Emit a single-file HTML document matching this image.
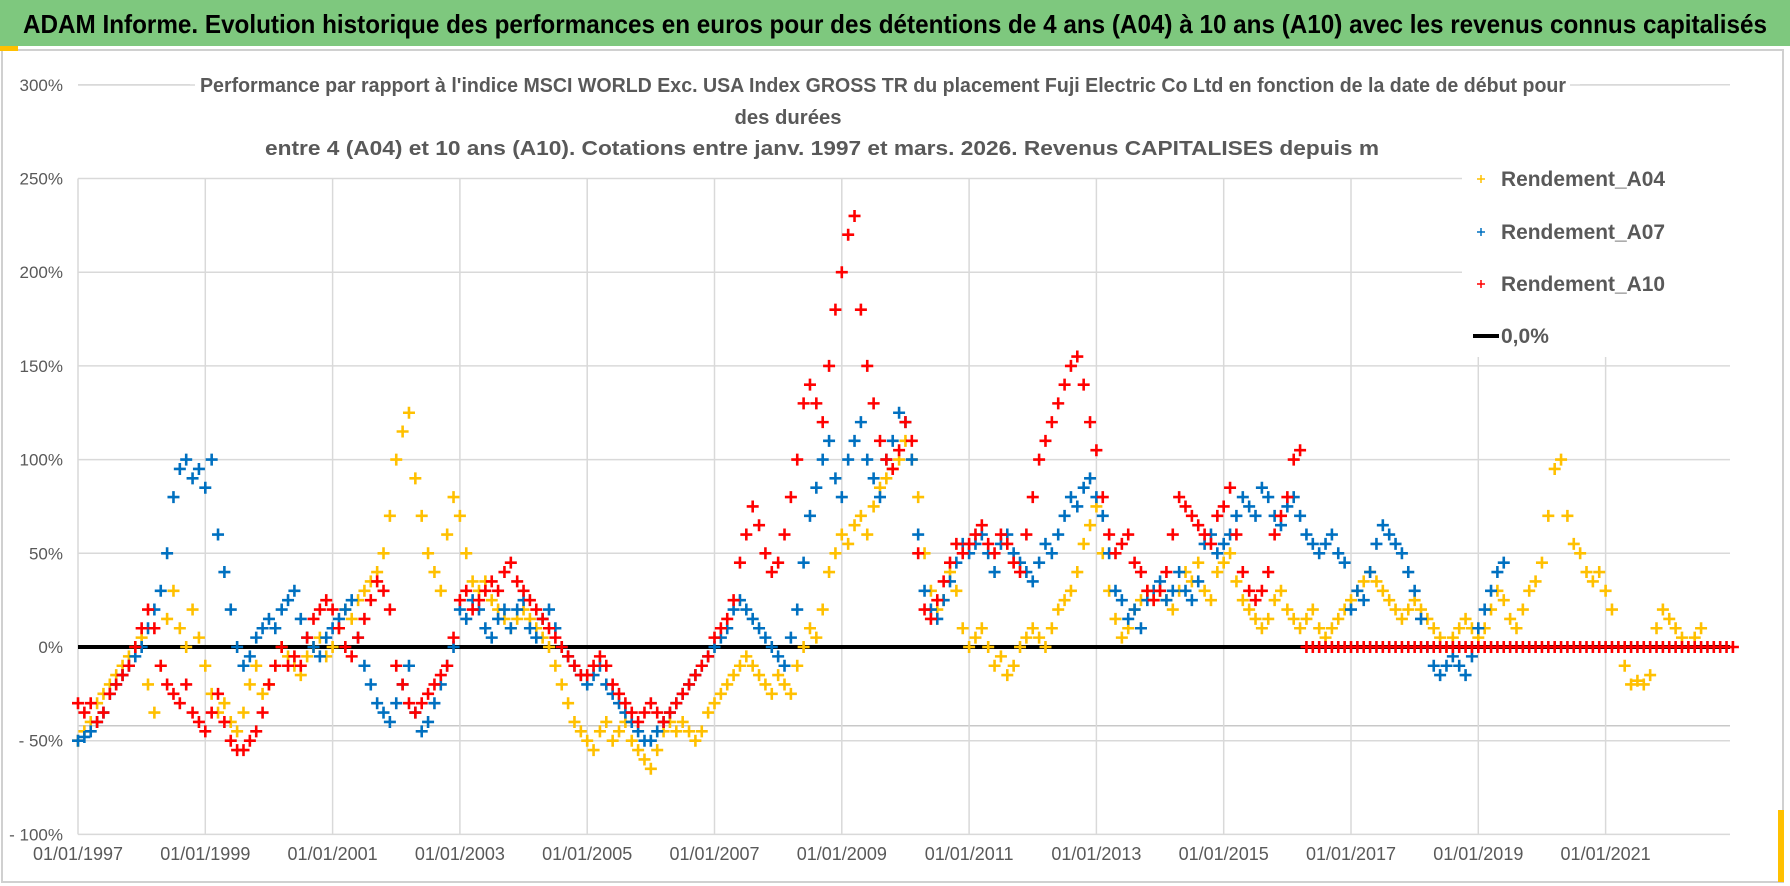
<!DOCTYPE html>
<html><head><meta charset="utf-8"><style>
html,body{margin:0;padding:0;background:#fff;}
svg{display:block;font-family:"Liberation Sans",sans-serif;}
</style></head><body>
<svg id="chart" width="1790" height="886" viewBox="0 0 1790 886">
<rect x="0" y="0" width="1790" height="886" fill="#fff"/>
<rect x="0" y="0" width="1790" height="46" fill="#7ec87e"/>
<text x="23" y="33" font-size="26" font-weight="bold" fill="#000" textLength="1744" lengthAdjust="spacingAndGlyphs">ADAM Informe. Evolution historique des performances en euros pour des détentions de 4 ans (A04) à 10 ans (A10) avec les revenus connus capitalisés</text>
<rect x="2" y="50" width="1781" height="832" fill="none" stroke="#d0d0d0" stroke-width="2"/>
<rect x="0" y="46" width="18" height="5" fill="#ffc000"/>
<rect x="1778" y="810" width="6" height="72" fill="#ffc000"/>
<g id="grid"></g>
<g id="marks"></g>
<rect x="190" y="68" width="1390" height="104" fill="#fff"/>
<line x1="78" y1="85" x2="195" y2="85" stroke="#d9d9d9" stroke-width="1.5"/>
<line x1="1570" y1="85" x2="1700" y2="85" stroke="#d9d9d9" stroke-width="1.5"/>
<g fill="#595959" font-size="20" font-weight="bold">
<text x="200" y="92" textLength="1366" lengthAdjust="spacingAndGlyphs">Performance par rapport à l'indice MSCI WORLD Exc. USA Index GROSS TR  du placement Fuji Electric Co Ltd en fonction de la date de début pour</text>
<text x="788" y="124" text-anchor="middle" textLength="107" lengthAdjust="spacingAndGlyphs">des durées</text>
<text x="265" y="155" textLength="1114" lengthAdjust="spacingAndGlyphs">entre 4 (A04) et 10 ans (A10).  Cotations entre janv. 1997 et mars. 2026.  Revenus CAPITALISES depuis m</text>
</g>
<rect x="1462" y="152" width="280" height="205" fill="#fff"/>
<g font-size="21" font-weight="bold" fill="#595959">
<g><path d="M1477 179h8M1481 175v8" stroke="#ffc000" stroke-width="1.5"/><text x="1501" y="186" textLength="164" lengthAdjust="spacingAndGlyphs">Rendement_A04</text></g>
<g><path d="M1477 232h8M1481 228v8" stroke="#0070c0" stroke-width="1.5"/><text x="1501" y="239" textLength="164" lengthAdjust="spacingAndGlyphs">Rendement_A07</text></g>
<g><path d="M1477 284h8M1481 280v8" stroke="#ff0000" stroke-width="1.5"/><text x="1501" y="291" textLength="164" lengthAdjust="spacingAndGlyphs">Rendement_A10</text></g>
<g><line x1="1473" y1="336" x2="1499" y2="336" stroke="#000" stroke-width="4"/><text x="1501" y="343">0,0%</text></g>
</g>
<g id="axes"></g>
</svg>
<script>
const yTicks=[300,250,200,150,100,50,0,-50,-100];
const yTickLabels=["300%","250%","200%","150%","100%","50%","0%","- 50%","- 100%"];
const xTickYears=[1997,1999,2001,2003,2005,2007,2009,2011,2013,2015,2017,2019,2021];
const xTickLabels=["01/01/1997","01/01/1999","01/01/2001","01/01/2003","01/01/2005","01/01/2007","01/01/2009","01/01/2011","01/01/2013","01/01/2015","01/01/2017","01/01/2019","01/01/2021"];
const seriesStart=1997.0;
const seriesStep=0.1;
const a04=[-50,-45,-40,-30,-25,-20,-15,-10,-5,0,
5,-20,-35,-10,15,30,10,0,20,5,
-10,-25,-35,-30,-40,-45,-35,-20,-10,-25,
-20,-10,0,-5,-10,-15,-5,0,5,-5,
0,10,20,15,25,30,35,40,50,70,
100,115,125,90,70,50,40,30,60,80,
70,50,35,30,35,25,20,15,10,15,
20,15,10,5,0,-10,-20,-30,-40,-45,
-50,-55,-45,-40,-50,-45,-40,-50,-55,-60,
-65,-55,-45,-40,-45,-40,-45,-50,-45,-35,
-30,-25,-20,-15,-10,-5,-10,-15,-20,-25,
-15,-20,-25,-10,0,10,5,20,40,50,
60,55,65,70,60,75,85,90,95,100,
110,100,80,50,30,20,25,40,30,10,
0,5,10,0,-10,-5,-15,-10,0,5,
10,5,0,10,20,25,30,40,55,65,
75,50,30,15,5,10,20,25,30,25,
30,25,20,30,40,35,45,30,25,40,
45,50,35,25,20,15,10,15,25,30,
20,15,10,15,20,10,5,10,15,20,
25,30,35,40,35,30,25,20,15,20,
25,20,15,10,5,0,5,10,15,10,
5,10,20,30,25,15,10,20,30,35,
45,70,95,100,70,55,50,40,35,40,
30,20,0,-10,-20,-18,-20,-15,10,20,
15,10,5,0,5,10];
const a07=[-50,-48,-45,-40,-35,-25,-20,-15,-10,-5,
0,10,20,30,50,80,95,100,90,95,
85,100,60,40,20,0,-10,-5,5,10,
15,10,20,25,30,15,5,0,-5,5,
10,15,20,25,5,-10,-20,-30,-35,-40,
-30,-20,-10,-35,-45,-40,-30,-20,-10,0,
20,15,25,20,10,5,15,20,10,20,
25,10,5,15,20,10,0,-5,-10,-15,
-20,-15,-10,-20,-25,-30,-35,-40,-45,-50,
-50,-45,-40,-35,-30,-25,-20,-15,-10,-5,
0,5,10,20,25,20,15,10,5,0,
-5,-10,5,20,45,70,85,100,110,90,
80,100,110,120,100,90,80,100,110,125,
120,100,60,30,20,15,25,35,45,55,
50,55,60,50,40,55,60,50,45,40,
35,45,55,50,60,70,80,75,85,90,
80,70,50,30,25,15,20,10,25,30,
35,25,30,40,30,25,35,55,60,50,
55,60,70,80,75,70,85,80,70,65,
75,80,70,60,55,50,55,60,50,45,
20,30,25,40,55,65,60,55,50,40,
30,15,0,-10,-15,-10,-5,-10,-15,-5,
10,20,30,40,45];
const a10=[-30,-35,-30,-40,-35,-25,-20,-15,-10,0,
10,20,10,-10,-20,-25,-30,-20,-35,-40,
-45,-35,-25,-40,-50,-55,-55,-50,-45,-35,
-20,-10,0,-10,-5,-10,5,15,20,25,
20,10,0,-5,5,15,25,35,30,20,
-10,-20,-30,-35,-30,-25,-20,-15,-10,5,
25,30,20,25,30,35,30,40,45,35,
30,25,20,15,10,5,0,-5,-10,-15,
-15,-10,-5,-10,-20,-25,-30,-35,-40,-35,
-30,-35,-40,-35,-30,-25,-20,-15,-10,-5,
5,10,15,25,45,60,75,65,50,40,
45,60,80,100,130,140,130,120,150,180,
200,220,230,180,150,130,110,100,95,105,
120,110,50,20,15,25,35,45,55,50,
55,60,65,55,50,60,55,45,40,60,
80,100,110,120,130,140,150,155,140,120,
105,80,60,50,55,60,45,40,30,25,
30,40,60,80,75,70,65,60,55,70,
75,85,60,40,30,25,30,40,60,70,
80,100,105,
0,0,0,0,0,0,0,0,0,0,0,0,0,0,0,0,0,0,0,0,0,0,0,0,0,0,0,0,0,0,0,0,0,0,
0,0,0,0,0,0,0,0,0,0,0,0,0,0,0,0,0,0,0,0,0,0,0,0,0,0,0,0,0,0,0,0,0,0];
const zeroLine=[0];

const NS="http://www.w3.org/2000/svg";
const X0=78,PX_PER_YEAR=63.65,Y0=647,PX_PER_PCT=1.874,XR=1730;
function xs(yr){return X0+(yr-1997)*PX_PER_YEAR;}
function ys(v){return Y0-v*PX_PER_PCT;}
function mk(tag,attrs,parent){const e=document.createElementNS(NS,tag);for(const k in attrs)e.setAttribute(k,attrs[k]);parent.appendChild(e);return e;}
const grid=document.getElementById('grid'),marks=document.getElementById('marks'),axes=document.getElementById('axes');
yTicks.forEach((v,i)=>{
  const l=mk('line',{x1:X0,x2:XR,y1:ys(v),y2:ys(v),stroke:'#d9d9d9','stroke-width':1.5},grid);
  
  
  const t=mk('text',{x:63,y:ys(v)+6,'text-anchor':'end','font-size':17,fill:'#595959'},axes);
  t.textContent=yTickLabels[i];
  
  
});
const extra=mk('line',{x1:X0,x2:XR,y1:ys(-42),y2:ys(-42),stroke:'#c8c8c8','stroke-width':1.5},grid);


xTickYears.forEach((yr,i)=>{
  const l=mk('line',{x1:xs(yr),x2:xs(yr),y1:ys(250),y2:ys(-100),stroke:'#d9d9d9','stroke-width':1.5},grid);
  
  
  const t=mk('text',{x:xs(yr),y:860,'text-anchor':'middle','font-size':18,fill:'#595959'},axes);
  t.textContent=xTickLabels[i];
  
  
});
const zl=mk('line',{x1:X0,x2:XR,y1:ys(zeroLine[0]),y2:ys(zeroLine[0]),stroke:'#000','stroke-width':4},marks);


function drawSeries(arr,color,name){
  const g=mk('g',{stroke:color,'stroke-width':2.6,fill:'none'},marks);
  
  
  arr.forEach((v,i)=>{
    const x=xs(seriesStart+i*seriesStep),y=ys(v);
    const p=mk('path',{d:`M${x-6} ${y}h12M${x} ${y-6}v12`},g);
    
    
  });
}
drawSeries(a04,'#ffc000','series-a04');
drawSeries(a07,'#0070c0','series-a07');
drawSeries(a10,'#ff0000','series-a10');
</script>
</body></html>
